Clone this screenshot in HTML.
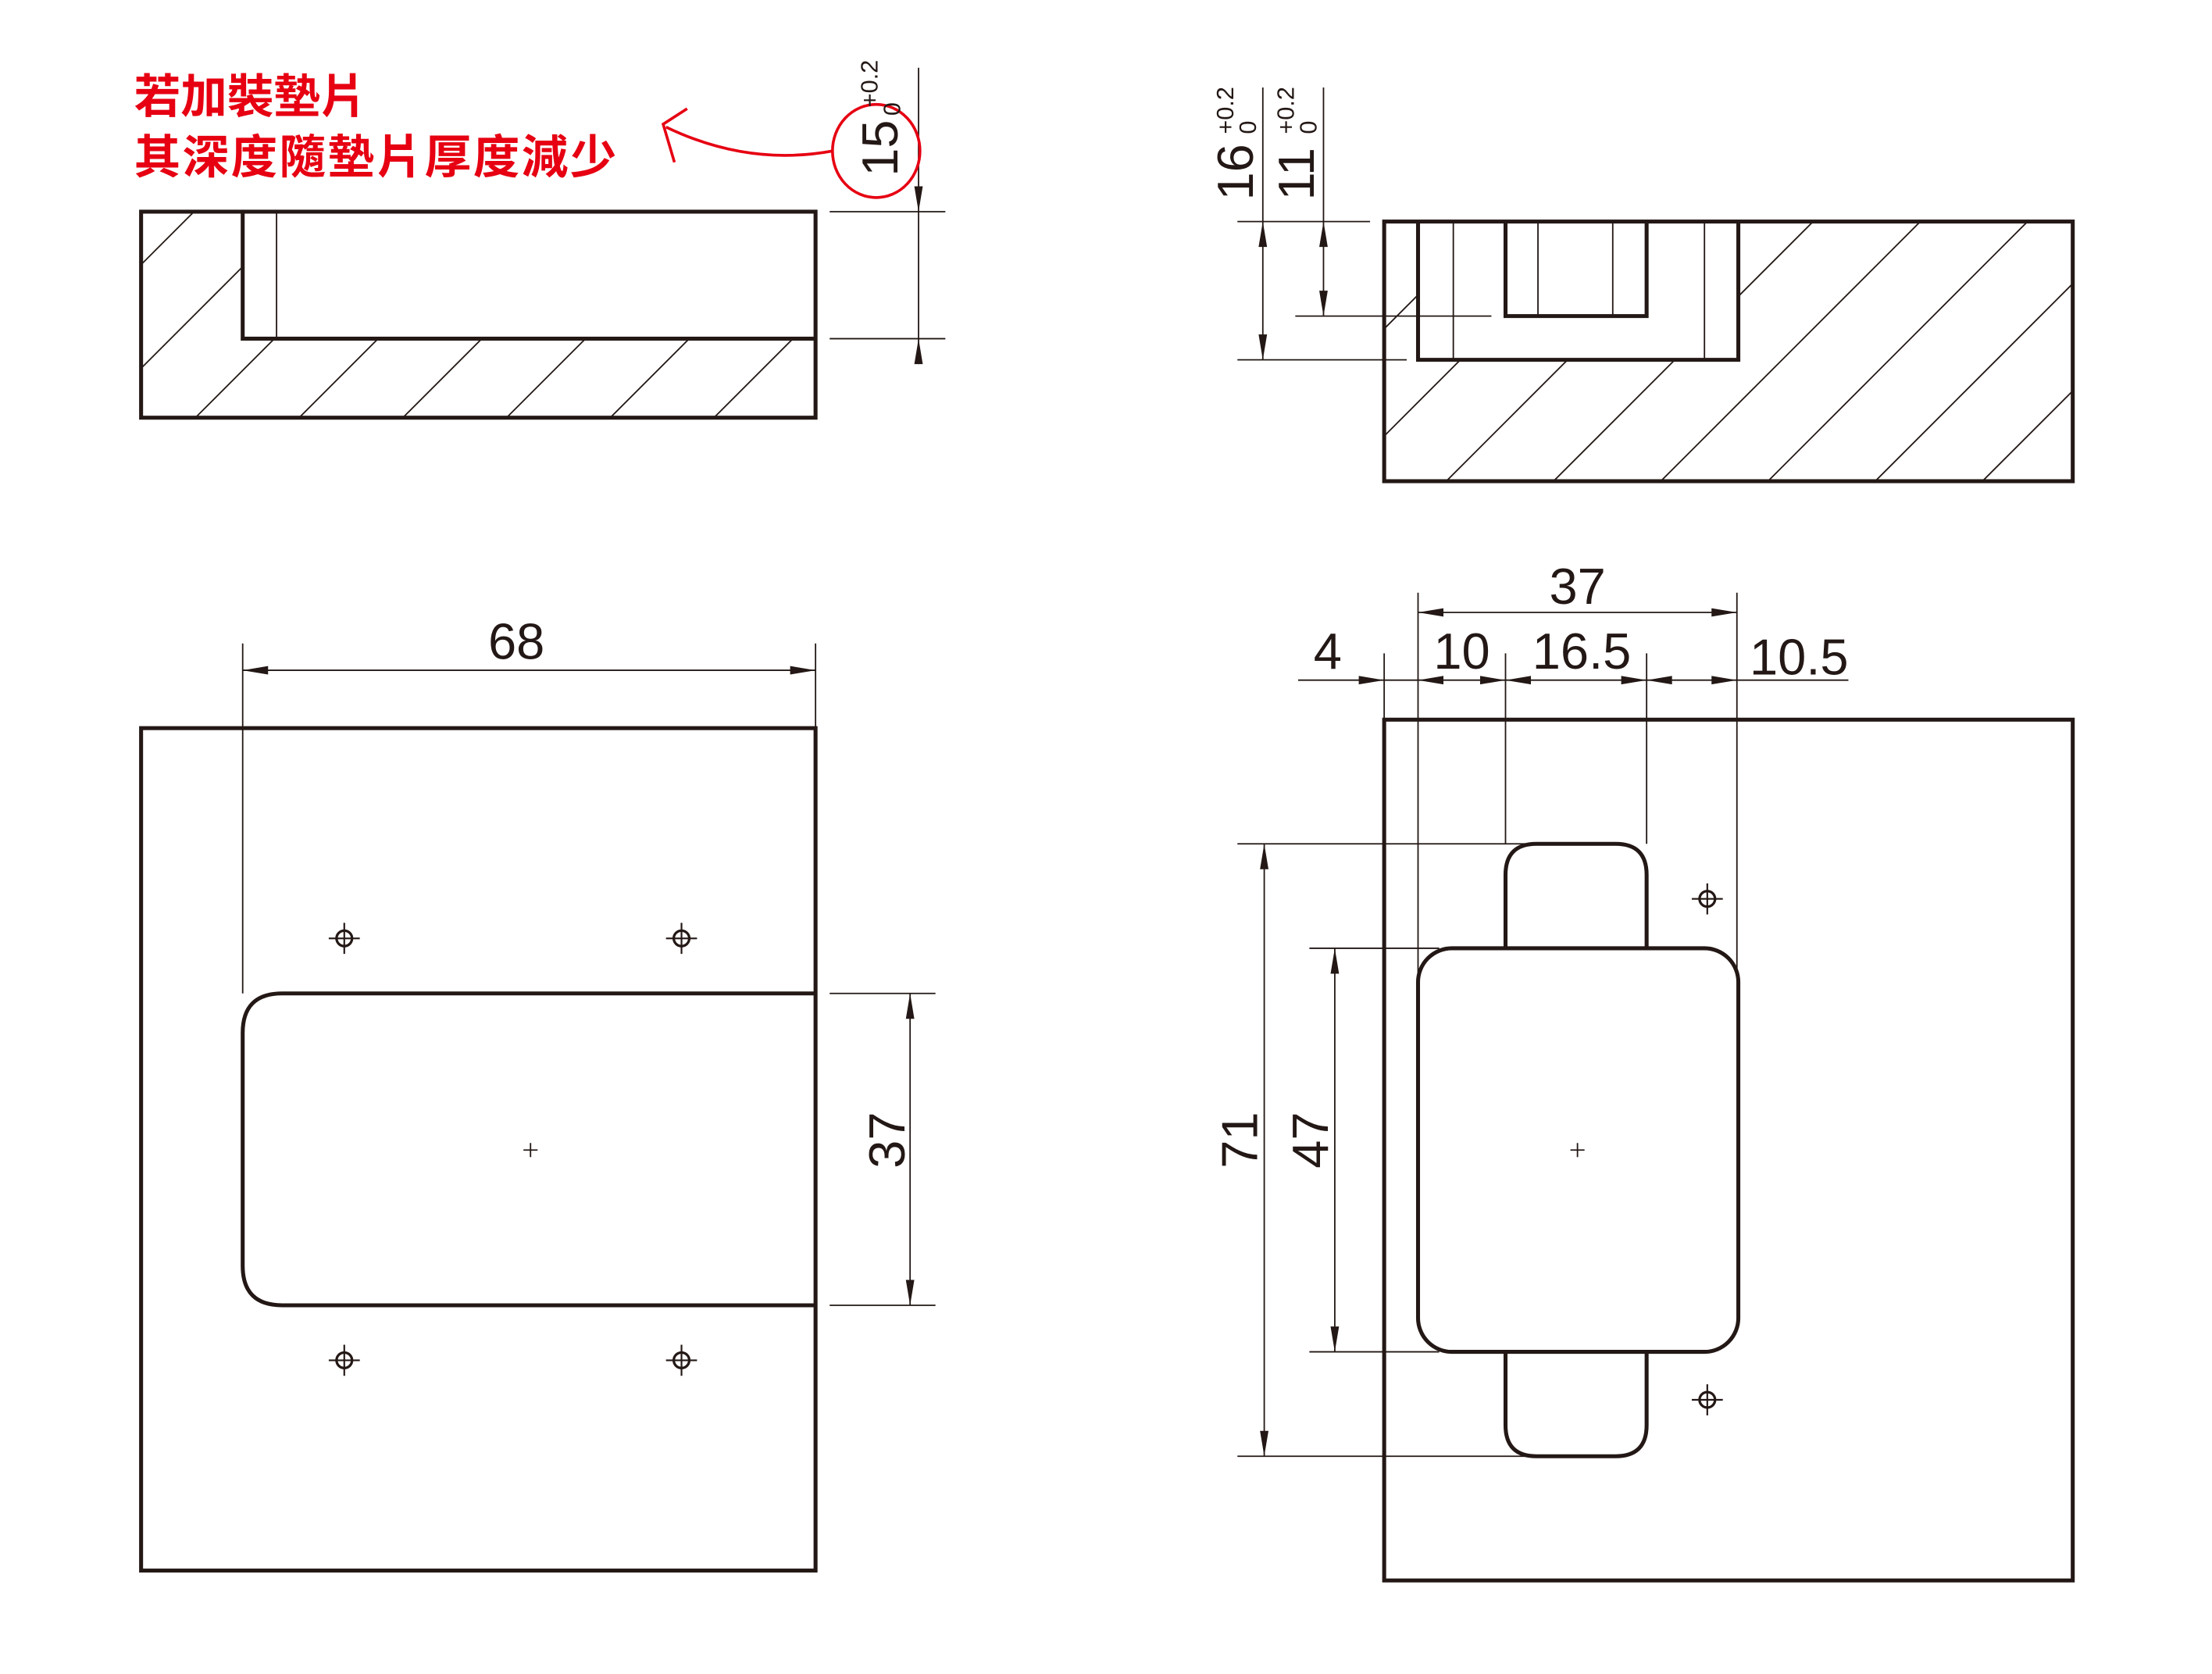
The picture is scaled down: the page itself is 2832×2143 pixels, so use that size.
<!DOCTYPE html>
<html><head><meta charset="utf-8"><style>
html,body{margin:0;padding:0;background:#fff;}
svg{display:block}
text{font-family:"Liberation Sans","Noto Sans CJK TC",sans-serif;fill:#231815}
</style></head><body>
<svg width="2832" height="2143" viewBox="0 0 1567.7 1186.3" preserveAspectRatio="none" xmlns="http://www.w3.org/2000/svg">
<defs>
<clipPath id="c1"><polygon points="100,150 172,150 172,240 578,240 578,296 100,296"/></clipPath>
<clipPath id="c2"><polygon points="981,157 1005,157 1005,255 1232,255 1232,157 1469,157 1469,341 981,341"/></clipPath>
</defs>
<g stroke="#231815" fill="none">
<g stroke-width="1" clip-path="url(#c1)">
<line x1="287.5" y1="0" x2="-12.5" y2="300"/><line x1="361" y1="0" x2="61" y2="300"/>
<line x1="434.5" y1="0" x2="134.5" y2="300"/><line x1="508" y1="0" x2="208" y2="300"/>
<line x1="581.5" y1="0" x2="281.5" y2="300"/><line x1="655" y1="0" x2="355" y2="300"/>
<line x1="728.5" y1="0" x2="428.5" y2="300"/><line x1="802" y1="0" x2="502" y2="300"/>
</g>
<g stroke-width="2.8">
<rect x="100" y="150" width="478" height="146"/>
<polyline points="172,150 172,240 578,240"/>
</g>
<line x1="196" y1="150" x2="196" y2="240" stroke-width="1"/>
<g stroke-width="1">
<line x1="651" y1="48" x2="651" y2="258"/>
<line x1="588" y1="150" x2="670" y2="150"/><line x1="588" y1="240" x2="670" y2="240"/>
</g>
<g stroke-width="1" clip-path="url(#c2)">
<line x1="1214" y1="0" x2="814" y2="400"/><line x1="1290" y1="0" x2="890" y2="400"/>
<line x1="1366" y1="0" x2="966" y2="400"/><line x1="1442" y1="0" x2="1042" y2="400"/>
<line x1="1518" y1="0" x2="1118" y2="400"/><line x1="1594" y1="0" x2="1194" y2="400"/>
<line x1="1670" y1="0" x2="1270" y2="400"/><line x1="1746" y1="0" x2="1346" y2="400"/>
</g>
<g stroke-width="2.8">
<rect x="981" y="157" width="488" height="184"/>
<polyline points="1005,157 1005,255 1232,255 1232,157"/>
<polyline points="1067,157 1067,224 1167,224 1167,157"/>
</g>
<g stroke-width="1">
<line x1="1030" y1="157" x2="1030" y2="255"/><line x1="1208" y1="157" x2="1208" y2="255"/>
<line x1="1090" y1="157" x2="1090" y2="224"/><line x1="1143" y1="157" x2="1143" y2="224"/>
<line x1="895" y1="62" x2="895" y2="255"/><line x1="938" y1="62" x2="938" y2="224"/>
<line x1="877" y1="157" x2="971" y2="157"/><line x1="918" y1="224" x2="1057" y2="224"/>
<line x1="877" y1="255" x2="997" y2="255"/>
</g>
<g stroke-width="2.8">
<rect x="100" y="516" width="478" height="597"/>
<path d="M578,704 H200 Q172,704 172,732 V897 Q172,925 200,925 H578"/>
</g>
<g stroke-width="1">
<line x1="172" y1="456" x2="172" y2="704"/><line x1="578" y1="456" x2="578" y2="516"/>
<line x1="172" y1="475" x2="578" y2="475"/>
<line x1="645" y1="704" x2="645" y2="925"/>
<line x1="588" y1="704" x2="663" y2="704"/><line x1="588" y1="925" x2="663" y2="925"/>
<line x1="371" y1="815" x2="381" y2="815"/><line x1="376" y1="810" x2="376" y2="820"/>
</g>
<g stroke-width="1.8">
<circle cx="244" cy="665" r="5.5"/><circle cx="483" cy="665" r="5.5"/>
<circle cx="244" cy="964" r="5.5"/><circle cx="483" cy="964" r="5.5"/>
<circle cx="1210" cy="637" r="5.5"/><circle cx="1210" cy="992" r="5.5"/>
</g>
<g stroke-width="1.2">
<path d="M233,665h22M244,654v22M472,665h22M483,654v22M233,964h22M244,953v22M472,964h22M483,953v22M1199,637h22M1210,626v22M1199,992h22M1210,981v22"/>
</g>
<g stroke-width="2.8">
<rect x="981" y="510" width="488" height="610"/>
<rect x="1005" y="672" width="227" height="286" rx="24" ry="24"/>
<path d="M1067,672 V620 Q1067,598 1089,598 H1145 Q1167,598 1167,620 V672"/>
<path d="M1067,958 V1010 Q1067,1032 1089,1032 H1145 Q1167,1032 1167,1010 V958"/>
</g>
<g stroke-width="1">
<line x1="981" y1="463" x2="981" y2="510"/>
<line x1="1005" y1="420" x2="1005" y2="690"/>
<line x1="1067" y1="463" x2="1067" y2="598"/>
<line x1="1167" y1="463" x2="1167" y2="598"/>
<line x1="1231" y1="420" x2="1231" y2="690"/>
<line x1="1005" y1="434" x2="1231" y2="434"/>
<line x1="920" y1="482" x2="1310" y2="482"/>
<line x1="896" y1="598" x2="896" y2="1032"/>
<line x1="877" y1="598" x2="1085" y2="598"/><line x1="877" y1="1032" x2="1085" y2="1032"/>
<line x1="946" y1="672" x2="946" y2="958"/>
<line x1="928" y1="672" x2="1020" y2="672"/><line x1="928" y1="958" x2="1020" y2="958"/>
<line x1="1113" y1="815" x2="1123" y2="815"/><line x1="1118" y1="810" x2="1118" y2="820"/>
</g>
</g>
<g fill="#231815">
<polygon points="648,132 651,150 654,132"/><polygon points="648,258 651,240 654,258"/>
<polygon points="892,175 895,157 898,175"/><polygon points="892,237 895,255 898,237"/>
<polygon points="935,175 938,157 941,175"/><polygon points="935,206 938,224 941,206"/>
<polygon points="190,472 172,475 190,478"/><polygon points="560,472 578,475 560,478"/>
<polygon points="642,722 645,704 648,722"/><polygon points="642,907 645,925 648,907"/>
<polygon points="1023,431 1005,434 1023,437"/><polygon points="1213,431 1231,434 1213,437"/>
<polygon points="963,479 981,482 963,485"/>
<polygon points="1023,479 1005,482 1023,485"/><polygon points="1049,479 1067,482 1049,485"/>
<polygon points="1085,479 1067,482 1085,485"/><polygon points="1149,479 1167,482 1149,485"/>
<polygon points="1185,479 1167,482 1185,485"/><polygon points="1213,479 1231,482 1213,485"/>
<polygon points="893,616 896,598 899,616"/><polygon points="893,1014 896,1032 899,1014"/>
<polygon points="943,690 946,672 949,690"/><polygon points="943,940 946,958 949,940"/>
</g>
<g stroke="#e60012" fill="none" stroke-width="2">
<ellipse cx="621" cy="107" rx="31" ry="33"/>
<path d="M590,107 Q530,118 472,90"/>
<path d="M487,77 L470,88 L478,115"/>
</g>
<text x="95" y="80" font-size="33" font-weight="bold" style="fill:#e60012">若加裝墊片</text>
<text x="95" y="123" font-size="33" font-weight="bold" style="fill:#e60012" textLength="342">其深度隨墊片厚度減少</text>
<g font-size="36">
<text transform="translate(636,125) rotate(-90)">15</text>
<text transform="translate(622,76) rotate(-90)" font-size="17">+0.2</text>
<text transform="translate(638,82) rotate(-90)" font-size="17">0</text>
<text transform="translate(888,142) rotate(-90)">16</text>
<text transform="translate(874,95) rotate(-90)" font-size="17">+0.2</text>
<text transform="translate(890,95) rotate(-90)" font-size="17">0</text>
<text transform="translate(931,142) rotate(-90)">11</text>
<text transform="translate(917,95) rotate(-90)" font-size="17">+0.2</text>
<text transform="translate(933,95) rotate(-90)" font-size="17">0</text>
<text x="366" y="467" text-anchor="middle">68</text>
<text transform="translate(641,808) rotate(-90)" text-anchor="middle">37</text>
<text x="1118" y="428" text-anchor="middle">37</text>
<text x="941" y="474" text-anchor="middle">4</text>
<text x="1036" y="474" text-anchor="middle">10</text>
<text x="1121" y="474" text-anchor="middle">16.5</text>
<text x="1240" y="478">10.5</text>
<text transform="translate(891,808) rotate(-90)" text-anchor="middle">71</text>
<text transform="translate(941,808) rotate(-90)" text-anchor="middle">47</text>
</g>
</svg>
</body></html>
